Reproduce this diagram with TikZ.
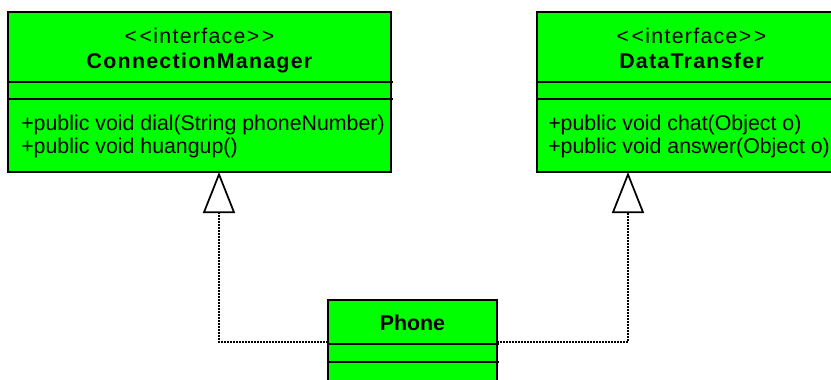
\documentclass[tikz,border=0pt]{standalone}
\usepackage{fontspec}
\setmainfont{Liberation Sans}
\newfontfamily\headfont[LetterSpace=6]{Liberation Sans}
\usetikzlibrary{positioning,arrows.meta,calc}
\definecolor{umlgreen}{RGB}{0,255,0}

\begin{document}
\begin{tikzpicture}[
        x=0.75pt, y=-0.75pt,
        cls/.style={
          draw,
          fill=umlgreen,
          line width=1.5pt,
          anchor=north west,
          inner sep=0pt,
          outer sep=0pt
        },
        sep/.style={line width=1.5pt},
        stereo/.style={anchor=base, inner sep=0pt, font=\headfont\fontsize{16}{19}\selectfont},
        title/.style={anchor=base, inner sep=0pt, font=\headfont\fontsize{16}{19}\selectfont\bfseries},
        meth/.style={anchor=base west, inner sep=0pt, font=\fontsize{16}{19}\selectfont},
        real/.style={
          line width=1.2pt,
          dash pattern=on 1.2pt off 1.05pt,
          -{Triangle[open, fill=white, length=30.75pt, width=24pt, line width=1.3pt]}
        }
      ]
      \useasboundingbox (0,0) rectangle (831,379);

      % Interface: ConnectionManager
      \node[cls, minimum width=287.25pt, minimum height=120pt] (cm) at (8,12) {};
      \draw[sep] ($(cm.north west)+(0,70)$) -- ($(cm.north east)+(2,70)$);
      \draw[sep] ($(cm.north west)+(0,87)$) -- ($(cm.north east)+(2,87)$);
      \node[stereo] (cmStereo) at ($(cm.north)+(0,31)$) {<\kern2pt<interface>\kern2pt>};
      \node[title]  (cmTitle)  at ($(cm.north)+(0,56)$) {ConnectionManager};
      \node[meth]   (cmDial)   at ($(cm.north west)+(13,118)$) {+public void dial(String phoneNumber)};
      \node[meth]   (cmHang)   at ($(cm.north west)+(13,141)$) {+public void huangup()};

      % Interface: DataTransfer
      \node[cls, minimum width=231.75pt, minimum height=120pt] (dt) at (537,12) {};
      \draw[sep] ($(dt.north west)+(0,70)$) -- ($(dt.north east)+(2,70)$);
      \draw[sep] ($(dt.north west)+(0,87)$) -- ($(dt.north east)+(2,87)$);
      \node[stereo] (dtStereo) at ($(dt.north)+(0,31)$) {<\kern2pt<interface>\kern2pt>};
      \node[title]  (dtTitle)  at ($(dt.north)+(0,56)$) {DataTransfer};
      \node[meth]   (dtChat)   at ($(dt.north west)+(11,118)$) {+public void chat(Object o)};
      \node[meth]   (dtAns)    at ($(dt.north west)+(11,141)$) {+public void answer(Object o)};

      % Class: Phone
      \node[cls, minimum width=126.75pt, minimum height=75pt] (phone) at (328,300) {};
      \draw[sep] ($(phone.north west)+(0,44)$) -- ($(phone.north east)+(2,44)$);
      \draw[sep] ($(phone.north west)+(0,62)$) -- ($(phone.north east)+(2,62)$);
      \node[anchor=base, inner sep=0pt, font=\fontsize{16}{19}\selectfont\bfseries]
        (phoneTitle) at ($(phone.north)+(0,30)$) {Phone};

      % Realizations
      \coordinate (cmTip) at ($(cm.south west)+(211,0)$);
      \coordinate (dtTip) at ($(dt.south west)+(91,0)$);
      \draw[real] ($(phone.north west)+(0,42)$) -| (cmTip);
      \draw[real] ($(phone.north east)+(0,42)$) -| (dtTip);

    \end{tikzpicture}
\end{document}
